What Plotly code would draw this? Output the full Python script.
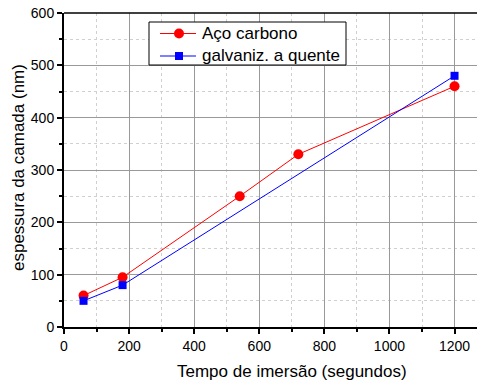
import plotly.graph_objects as go

x_aco = [60, 180, 540, 720, 1200]
y_aco = [60, 95, 250, 330, 460]
x_galv = [60, 180, 1200]
y_galv = [50, 80, 480]
name_aco = "Aço carbono"
name_galv = "galvaniz. a quente"
color_aco = "#ff0000"
color_galv = "#0000ff"
x_title = "Tempo de imersão (segundos)"
y_title = "espessura da camada (nm)"

FONT = "Liberation Sans"
W, H = 477, 385
ML, MR, MT, MB = 64, 0, 13, 58
PW, PH = W - ML - MR, H - MT - MB


def px(x):
    return (x - ML) / PW


def py(y):
    return (H - MB - y) / PH


fig = go.Figure()
fig.add_trace(go.Scatter(x=x_aco, y=y_aco, mode="lines+markers", name=name_aco,
                         line=dict(color=color_aco, width=1),
                         marker=dict(symbol="circle", size=10, color=color_aco)))
fig.add_trace(go.Scatter(x=x_galv, y=y_galv, mode="lines+markers", name=name_galv,
                         line=dict(color=color_galv, width=1),
                         marker=dict(symbol="square", size=8, color=color_galv)))

shapes = [
    # top frame line
    dict(type="line", xref="paper", yref="paper", x0=0, x1=1, y0=1, y1=1,
         line=dict(color="black", width=1.5)),
    # legend box
    dict(type="rect", xref="paper", yref="paper", x0=px(149), x1=px(346), y0=py(65), y1=py(22),
         fillcolor="white", line=dict(color="black", width=1)),
]
annotations = [
    dict(xref="paper", yref="paper", x=px(292), y=py(371), text=x_title, showarrow=False,
         xanchor="center", yanchor="middle", font=dict(size=17, family=FONT, color="black")),
    dict(xref="paper", yref="paper", x=px(18), y=py(168), text=y_title, showarrow=False,
         textangle=-90, xanchor="center", yanchor="middle",
         font=dict(size=17, family=FONT, color="black")),
]
rows = [(33.5, name_aco, color_aco, "circle"), (56, name_galv, color_galv, "square")]
for yc, name, col, sym in rows:
    shapes.append(dict(type="line", xref="paper", yref="paper", x0=px(160), x1=px(196),
                       y0=py(yc), y1=py(yc), line=dict(color=col, width=1)))
    if sym == "circle":
        r = 5
        shapes.append(dict(type="circle", xref="paper", yref="paper",
                           x0=px(179 - r), x1=px(179 + r), y0=py(yc + r), y1=py(yc - r),
                           fillcolor=col, line=dict(color=col, width=0)))
    else:
        r = 4
        shapes.append(dict(type="rect", xref="paper", yref="paper",
                           x0=px(179 - r), x1=px(179 + r), y0=py(yc + r), y1=py(yc - r),
                           fillcolor=col, line=dict(color=col, width=0)))
    annotations.append(dict(xref="paper", yref="paper", x=px(200), y=py(yc), text=name,
                            showarrow=False, xanchor="left", yanchor="middle",
                            font=dict(size=17, family=FONT, color="black")))

fig.update_layout(
    width=W, height=H,
    margin=dict(l=ML, r=MR, t=MT, b=MB, autoexpand=False),
    paper_bgcolor="white", plot_bgcolor="white",
    font=dict(family=FONT, size=14, color="black"),
    showlegend=False,
    shapes=shapes,
    annotations=annotations,
    xaxis=dict(range=[0, 1269], tickvals=[0, 200, 400, 600, 800, 1000, 1200],
               automargin=False,
               showgrid=True, gridcolor="#999999", gridwidth=1,
               showline=True, linecolor="black", linewidth=2, mirror=False,
               ticks="outside", ticklen=5, tickwidth=1.5, tickcolor="black",
               minor=dict(tickvals=[100, 300, 500, 700, 900, 1100], ticks="outside", ticklen=3,
                          tickcolor="black", showgrid=True, gridcolor="#d0d0d0",
                          griddash="dot", gridwidth=1),
               zeroline=False),
    yaxis=dict(range=[0, 600], tickvals=[0, 100, 200, 300, 400, 500, 600],
               automargin=False,
               showgrid=True, gridcolor="#999999", gridwidth=1,
               showline=True, linecolor="black", linewidth=2,
               ticks="outside", ticklen=5, tickwidth=1.5, tickcolor="black",
               minor=dict(tickvals=[50, 150, 250, 350, 450, 550], ticks="outside", ticklen=3,
                          tickcolor="black", showgrid=True, gridcolor="#d0d0d0",
                          griddash="dot", gridwidth=1),
               zeroline=False),
)

fig.write_html("out.html", config={"displayModeBar": False},
               post_script="document.body.style.margin='0';document.body.style.overflow='hidden';")
